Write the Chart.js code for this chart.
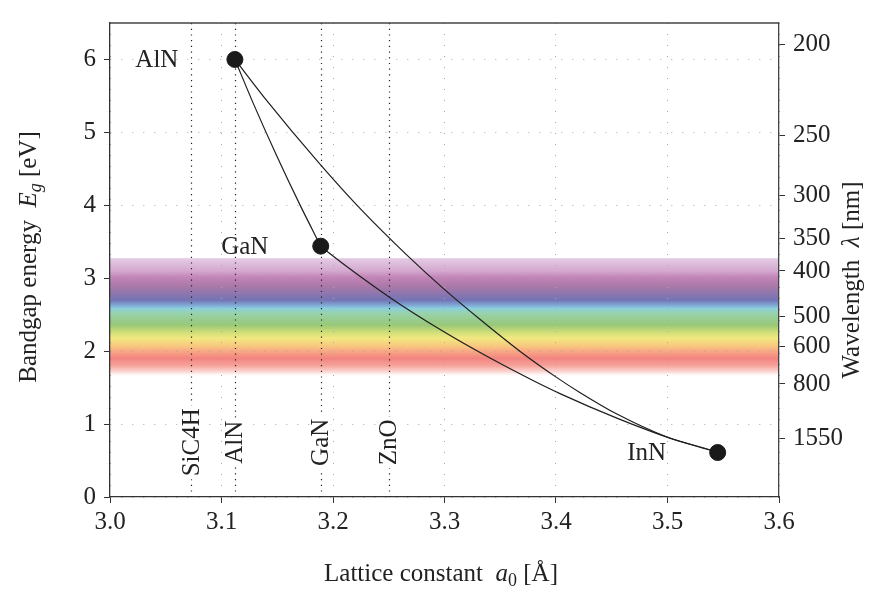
<!DOCTYPE html>
<html>
<head>
<meta charset="utf-8">
<script src="https://cdn.jsdelivr.net/npm/chart.js@4.4.1/dist/chart.umd.min.js"></script>
<style>
html, body { margin: 0; padding: 0; background: #fff; }
#wrap { width: 875px; height: 595px; }
</style>
</head>
<body>
<div id="wrap"><canvas id="gapChart" width="875" height="595"></canvas></div>
<script>
// binary nitrides: lattice constant a0 [Å] and bandgap [eV]
const compounds = ["AlN", "GaN", "InN"];
const latticeA = [3.112, 3.189, 3.545];
const gapE = [6.0, 3.44, 0.61];

// ternary curves
const alganX = [3.112, 3.1287, 3.1497, 3.1706, 3.189];
const alganY = [6.0, 5.391, 4.673, 3.999, 3.44];
const alinnX = [3.112, 3.1377, 3.1885, 3.2244, 3.2663, 3.2991, 3.3320, 3.3679, 3.4008, 3.4217, 3.4546, 3.4995, 3.5411, 3.545];
const alinnY = [6.0, 5.491, 4.561, 3.954, 3.317, 2.858, 2.434, 1.996, 1.637, 1.430, 1.137, 0.823, 0.632, 0.61];
const ganinnX = [3.189, 3.1945, 3.2513, 3.2991, 3.3409, 3.3798, 3.4036, 3.4546, 3.4995, 3.5411, 3.545];
const ganinnY = [3.44, 3.369, 2.733, 2.269, 1.905, 1.594, 1.418, 1.081, 0.821, 0.628, 0.61];

// substrate lattice constants (vertical markers)
const substrates = ["SiC4H", "AlN", "GaN", "ZnO"];
const substrateA = [3.073, 3.112, 3.189, 3.25];

// right axis ticks, wavelength in nm
const waveTicks = [200, 250, 300, 350, 400, 500, 600, 800, 1550];

// visible spectrum band: energy [eV] -> colour
const bandE = [3.275, 3.10, 3.01, 2.88, 2.70, 2.63, 2.585, 2.52, 2.36, 2.27, 2.18, 2.07, 2.00, 1.90, 1.80, 1.71, 1.645];
const bandC = ["#e4cce4", "#d4a8d0", "#c284b6", "#a878a8", "#7474b4", "#80a8d4", "#8cd0dc", "#98d2ac", "#98c878",
               "#cadc78", "#f2e880", "#f8c880", "#f8a884", "#f28480", "#f6a49c", "#fcdcd8", "rgba(255,255,255,0)"];

const FONT = '"Liberation Serif", "DejaVu Serif", serif';
const INK = "#222";

const toPts = (xs, ys) => xs.map((x, i) => ({ x: x, y: ys[i] }));

function richText(ctx, parts, cx, cy, rot) {
    ctx.save();
    ctx.translate(cx, cy);
    ctx.rotate(rot);
    ctx.textBaseline = "alphabetic";
    ctx.textAlign = "left";
    let w = 0;
    parts.forEach(p => { ctx.font = p.f; w += ctx.measureText(p.t).width; });
    let x = -w / 2;
    parts.forEach(p => {
        ctx.font = p.f;
        ctx.fillStyle = INK;
        ctx.fillText(p.t, x, 8 + (p.dy || 0));
        x += ctx.measureText(p.t).width;
    });
    ctx.restore();
}

const decor = {
    id: "decor",
    beforeDraw(chart) {
        const { ctx, chartArea: a, scales: { y } } = chart;
        const top = y.getPixelForValue(bandE[0]);
        const bot = y.getPixelForValue(bandE[bandE.length - 1]);
        const g = ctx.createLinearGradient(0, top, 0, bot);
        bandE.forEach((e, i) => g.addColorStop((bandE[0] - e) / (bandE[0] - bandE[bandE.length - 1]), bandC[i]));
        ctx.save();
        ctx.fillStyle = g;
        ctx.fillRect(a.left, top, a.right - a.left, bot - top);
        ctx.restore();
    },
    beforeDatasetsDraw(chart) {
        const { ctx, chartArea: a, scales: { x, y } } = chart;
        ctx.save();
        ctx.strokeStyle = "#222";
        ctx.lineWidth = 1.2;
        ctx.setLineDash([1.2, 4.5]);
        substrateA.forEach(v => {
            const px = Math.round(x.getPixelForValue(v)) + 0.5;
            ctx.beginPath();
            ctx.moveTo(px, a.top);
            ctx.lineTo(px, a.bottom);
            ctx.stroke();
        });
        ctx.setLineDash([]);
        ctx.font = "25px " + FONT;
        const ly = y.getPixelForValue(0.75);
        substrates.forEach((s, i) => {
            const px = x.getPixelForValue(substrateA[i]);
            const w = ctx.measureText(s).width;
            ctx.save();
            ctx.translate(px, ly);
            ctx.rotate(-Math.PI / 2);
            ctx.fillStyle = "#fff";
            ctx.fillRect(-w / 2 - 3, -10, w + 6, 20);
            ctx.fillStyle = INK;
            ctx.textAlign = "center";
            ctx.textBaseline = "middle";
            ctx.fillText(s, 0, 1);
            ctx.restore();
        });
        ctx.restore();
    },
    afterDraw(chart) {
        const { ctx, chartArea: a, scales: { x, y } } = chart;
        ctx.save();
        // top frame line
        ctx.strokeStyle = "#444";
        ctx.lineWidth = 1.3;
        ctx.beginPath();
        ctx.moveTo(a.left, a.top);
        ctx.lineTo(a.right, a.top);
        ctx.stroke();
        // compound labels next to the points
        ctx.font = "25px " + FONT;
        ctx.fillStyle = INK;
        ctx.textAlign = "center";
        ctx.textBaseline = "middle";
        const shift = [-78, -76, -71];
        compounds.forEach((c, i) => {
            ctx.fillText(c, x.getPixelForValue(latticeA[i]) + shift[i], y.getPixelForValue(gapE[i]) + 1);
        });
        ctx.restore();

        const f = "25px " + FONT, fi = "italic 25px " + FONT, fs = "italic 18px " + FONT, fn = "18px " + FONT;
        richText(ctx, [{ t: "Bandgap energy  ", f: f }, { t: "E", f: fi }, { t: "g", f: fs, dy: 5 }, { t: " [eV]", f: f }], 28, 257, -Math.PI / 2);
        richText(ctx, [{ t: "Wavelength  ", f: f }, { t: "λ", f: fi }, { t: " [nm]", f: f }], 851, 280, -Math.PI / 2);
        richText(ctx, [{ t: "Lattice constant  ", f: f }, { t: "a", f: fi }, { t: "0", f: fn, dy: 5 }, { t: " [Å]", f: f }], 441, 573, 0);
    }
};

const lineStyle = { showLine: true, pointRadius: 0, borderColor: "#1e1e1e", borderWidth: 1.2, cubicInterpolationMode: "monotone", order: 2 };
const tickFont = { family: FONT, size: 25 };
const gridStyle = { color: "#a8a8a8", lineWidth: 1, tickColor: "#333", tickLength: 6 };

new Chart(document.getElementById("gapChart"), {
    type: "scatter",
    data: {
        datasets: [
            Object.assign({ data: toPts(alganX, alganY) }, lineStyle),
            Object.assign({ data: toPts(alinnX, alinnY) }, lineStyle),
            Object.assign({ data: toPts(ganinnX, ganinnY) }, lineStyle),
            {
                data: toPts(latticeA, gapE),
                pointRadius: 8,
                pointBackgroundColor: "#1a1a1a",
                pointBorderColor: "#1a1a1a",
                order: 1
            }
        ]
    },
    options: {
        responsive: false,
        animation: false,
        layout: { padding: { top: 14 } },
        plugins: { legend: { display: false }, tooltip: { enabled: false } },
        scales: {
            x: {
                type: "linear",
                min: 3.0,
                max: 3.6,
                afterFit: s => { s.height = 98; },
                ticks: { stepSize: 0.1, callback: v => v.toFixed(1), font: tickFont, color: INK, padding: 4 },
                grid: gridStyle,
                border: { color: "#333", width: 1.3, dash: [1, 10] }
            },
            y: {
                min: 0,
                max: 6.5,
                afterFit: s => { s.width = 110; },
                ticks: { stepSize: 1, includeBounds: false, font: tickFont, color: INK, padding: 8 },
                grid: gridStyle,
                border: { color: "#333", width: 1.3, dash: [1, 10] }
            },
            y2: {
                position: "right",
                min: 0,
                max: 6.5,
                afterFit: s => { s.width = 96; },
                afterBuildTicks: s => { s.ticks = waveTicks.map(w => ({ value: 1240 / w })); },
                ticks: { callback: v => String(Math.round(1240 / v)), font: tickFont, color: INK, padding: 8 },
                grid: { drawOnChartArea: false, tickColor: "#333", tickLength: 6 },
                border: { color: "#444", width: 1.3 }
            }
        }
    },
    plugins: [decor]
});
</script>
</body>
</html>
